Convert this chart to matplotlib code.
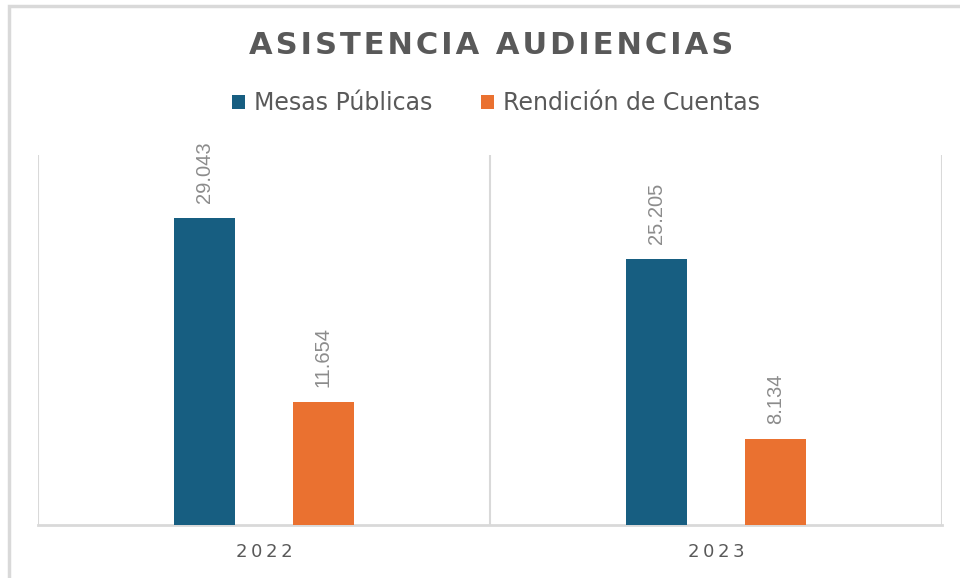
import numpy as np
import matplotlib.pyplot as plt
from matplotlib.patches import Rectangle

# data
years = ["2022", "2023"]
series_names = ["Mesas Públicas", "Rendición de Cuentas"]
mesas = [29043, 25205]
rendicion = [11654, 8134]

COLORS = ["#175E81", "#EA7130"]
GRID = "#D9D9D9"

plt.rcParams["font.family"] = ["DejaVu Sans"]

fig = plt.figure(figsize=(9.6, 5.78), dpi=100)

# outer chart border (only left/top visible in the crop)
fig.patches.append(Rectangle((9 / 960, -0.1), 1.2, 1.1 - 6 / 578,
                             transform=fig.transFigure, fill=False,
                             edgecolor=GRID, linewidth=2.5))

ax = fig.add_axes([38 / 960, 53 / 578, 904 / 960, 370 / 578])

x = np.arange(len(years))
off, w = 0.131, 0.135
for vals, name, c, d in [(mesas, series_names[0], COLORS[0], -off),
                         (rendicion, series_names[1], COLORS[1], off)]:
    bars = ax.bar(x + d, vals, width=w, color=c, label=name, zorder=3)
    for b, v in zip(bars, vals):
        lbl = f"{v:,}".replace(",", ".")
        ax.annotate(lbl, (b.get_x() + b.get_width() / 2, v),
                    xytext=(0, 10.5), textcoords="offset points",
                    rotation=90, ha="center", va="bottom",
                    fontsize=14.5, color="#8C8C8C",
                    family=["Liberation Sans", "DejaVu Sans"])

ax.set_xlim(-0.5, 1.5)
ax.set_ylim(0, 35000)
ax.set_yticks([])
ax.set_xticks(x)
ax.set_xticklabels(["\u2009".join(y) for y in years], fontsize=13, color="#595959")
ax.tick_params(axis="x", length=0, pad=13)
for xv in [-0.5, 0.5, 1.5]:
    ax.axvline(xv, color=GRID, linewidth=1.5, zorder=1)
for s in ["top", "left", "right"]:
    ax.spines[s].set_visible(False)
ax.spines["bottom"].set_color(GRID)
ax.spines["bottom"].set_linewidth(2)

title = "\u200a".join("ASISTENCIA AUDIENCIAS")
fig.text(491 / 960, 1 - 45 / 578, title, ha="center", va="center",
         fontsize=22, fontweight="bold", color="#595959")

fig.legend(loc="center", bbox_to_anchor=(496 / 960, 1 - 103 / 578), ncol=2,
           frameon=False, fontsize=17, labelcolor="#595959",
           handlelength=0.55, handleheight=0.55, handletextpad=0.35,
           columnspacing=2.1)

fig.savefig("out.png", dpi=100)
